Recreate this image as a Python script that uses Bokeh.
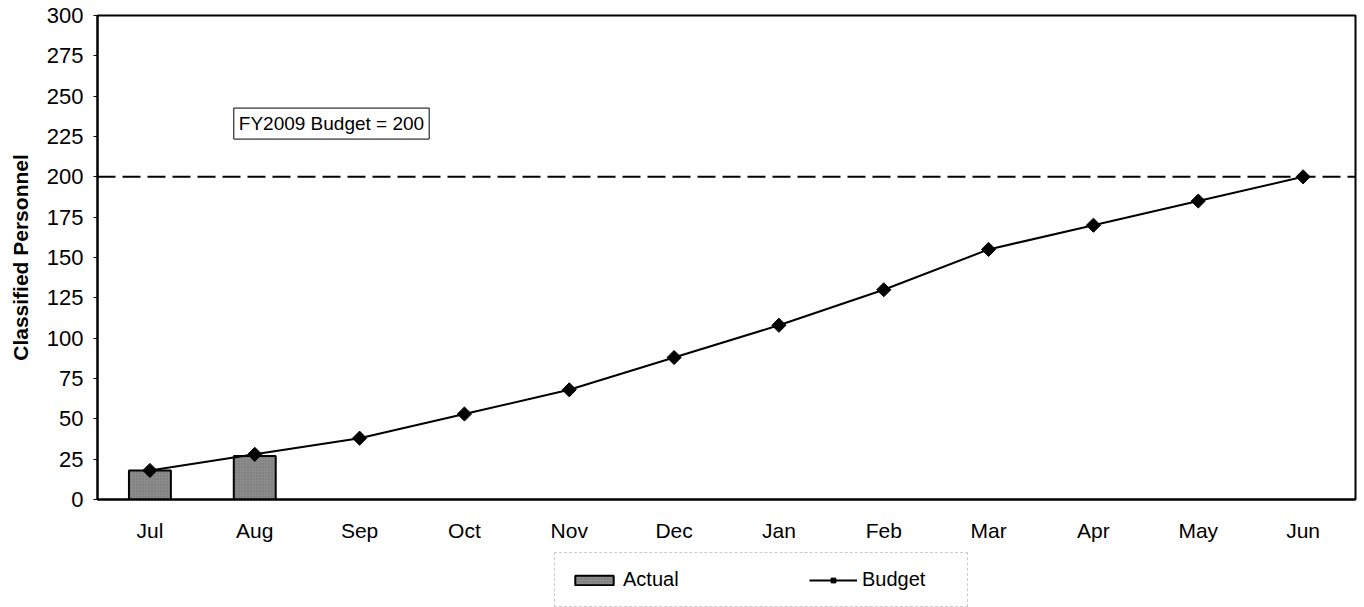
import math
from bokeh.plotting import figure
from bokeh.layouts import column, row
from bokeh.models import Span, Label, Legend, LegendItem, FixedTicker, Range1d, Spacer
from bokeh.embed import file_html
from bokeh.resources import INLINE

months = ["Jul", "Aug", "Sep", "Oct", "Nov", "Dec", "Jan", "Feb", "Mar", "Apr", "May", "Jun"]
actual_months = ["Jul", "Aug"]
actual = [18, 27]
budget = [18, 28, 38, 53, 68, 88, 108, 130, 155, 170, 185, 200]
fy_budget = 200
y_ticks = list(range(0, 301, 25))

FONT = "Liberation Sans"
NAN = float("nan")
BAR_STYLE = dict(fill_color="#8c8c8c", line_color="black", line_width=2,
                 hatch_pattern="dot", hatch_scale=3, hatch_color="#5a5a5a", hatch_alpha=0.6)

p = figure(x_range=months, y_range=Range1d(0, 300),
           frame_width=1258, frame_height=484,
           min_border_left=97, min_border_top=15, min_border_right=4, min_border_bottom=0,
           output_backend="svg", toolbar_location=None)

p.xgrid.visible = False
p.ygrid.visible = False
p.outline_line_color = "black"
p.outline_line_width = 2
p.outline_line_alpha = 1.0

p.xaxis.major_tick_line_color = None
p.xaxis.major_tick_out = 0
p.xaxis.minor_tick_line_color = None
p.xaxis.axis_line_width = 2
p.xaxis.axis_line_color = "black"
p.xaxis.major_label_standoff = 19
p.xaxis.major_label_text_font = FONT
p.xaxis.major_label_text_font_size = "21px"
p.xaxis.major_label_text_color = "black"

p.yaxis.ticker = FixedTicker(ticks=y_ticks)
p.yaxis.minor_tick_line_color = None
p.yaxis.major_tick_out = 4
p.yaxis.major_tick_in = 0
p.yaxis.axis_line_width = 2
p.yaxis.axis_line_color = "black"
p.yaxis.major_label_standoff = 10
p.yaxis.major_label_text_font = FONT
p.yaxis.major_label_text_font_size = "22px"
p.yaxis.major_label_text_color = "black"
p.yaxis.axis_label = "Classified Personnel"
p.yaxis.axis_label_text_font = FONT
p.yaxis.axis_label_text_font_size = "21px"
p.yaxis.axis_label_text_font_style = "bold"
p.yaxis.axis_label_text_color = "black"
p.yaxis.axis_label_standoff = 12

p.vbar(x=actual_months, top=actual, width=0.4, **BAR_STYLE)
p.line(x=months, y=budget, line_width=2, line_color="black")
p.scatter(x=months, y=budget, marker="square", angle=math.pi / 4, size=10,
          fill_color="black", line_color="black")

span = Span(location=fy_budget, dimension="width", line_dash="18 7",
            line_width=2, line_color="black")
p.add_layout(span)

lbl = Label(x=1.3, y=233, text="FY2009 Budget = 200", text_font=FONT,
            text_font_size="19px", text_color="black", text_baseline="middle",
            border_line_color="black", border_line_width=1,
            background_fill_color="white", padding=5)
p.add_layout(lbl)

# legend in its own small figure under the chart; its sample glyphs have no visible data
lf = figure(width=600, height=63, x_range=(0, 1), y_range=(0, 1),
            min_border=0, output_backend="svg", toolbar_location=None)
lf.axis.visible = False
lf.xgrid.visible = False
lf.ygrid.visible = False
lf.outline_line_color = None
lb = lf.vbar(x=[NAN], top=[NAN], width=0.4, **BAR_STYLE)
ll = lf.line(x=[NAN, NAN], y=[NAN, NAN], line_width=2, line_color="black")
ls = lf.scatter(x=[NAN], y=[NAN], marker="square", angle=math.pi / 4, size=10,
                fill_color="black", line_color="black")

legend = Legend(items=[LegendItem(label="Actual", renderers=[lb]),
                       LegendItem(label="Budget", renderers=[ll, ls])],
                orientation="horizontal", location=(0, 0),
                glyph_width=48, glyph_height=12, label_standoff=5,
                label_width=90, spacing=96, padding=15, margin=0,
                label_text_font=FONT, label_text_font_size="20px",
                label_text_color="black",
                border_line_color="#999999", border_line_dash="dotted",
                border_line_width=1, background_fill_alpha=0)
lf.add_layout(legend, "center")

layout = column(p, row(Spacer(width=554), lf))

open("out.html", "w").write(file_html(layout, INLINE))
